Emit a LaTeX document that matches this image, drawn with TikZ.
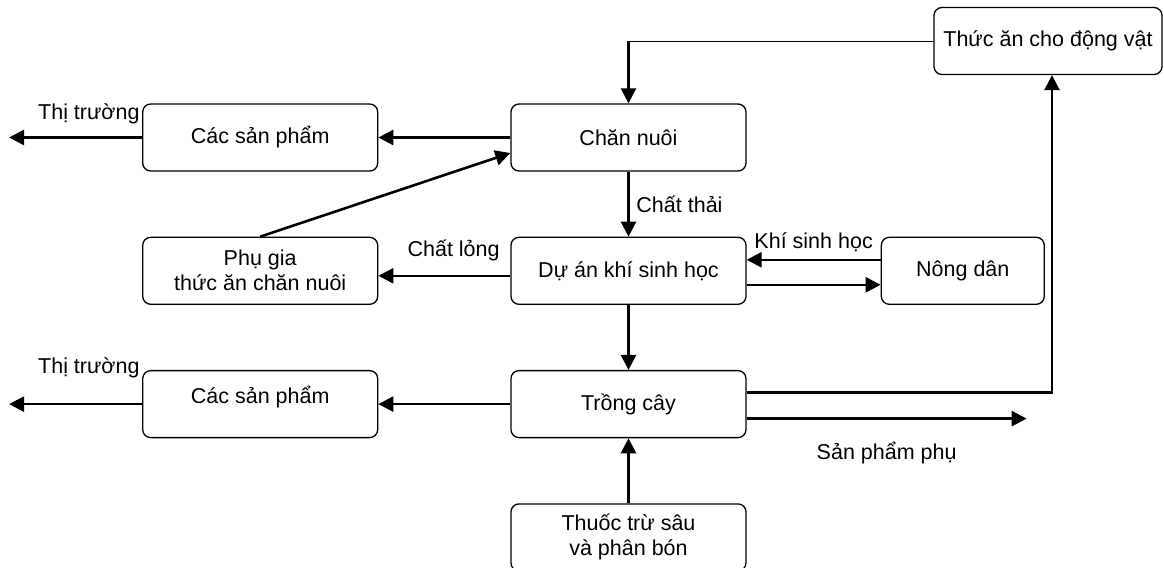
\documentclass[tikz,border=0pt]{standalone}
\usepackage{fontspec}
\setmainfont{Liberation Sans}
\usetikzlibrary{arrows.meta, positioning}

\begin{document}
\begin{tikzpicture}[x=0.5pt, y=-0.5pt, ->, >={Triangle[length=7.5pt,width=7.5pt]}, line width=1.3pt, auto, node distance=32.5pt and 66pt, font=\fontsize{10.75}{12.5}\selectfont]
\tikzstyle{box}=[draw=black, line width=0.65pt, rounded corners=4pt, minimum width=117.5pt, minimum height=33.5pt, align=center, inner sep=2pt]

\useasboundingbox (0,0) rectangle (1164,568);

\node[box] (chan) at (628.5,137.5) {Chăn nuôi};
\node[box] (duan) [below=of chan] {Dự án khí sinh học};
\node[box] (trong) [below=of duan] {Trồng cây};
\node[box] (thuoc) [below=of trong] {Thuốc trừ sâu\\và phân bón};
\node[box] (sp1) [left=of chan] {Các sản phẩm};
\node[box] (phugia) [left=of duan] {Phụ gia\\thức ăn chăn nuôi};
\node[box, text height=7.5pt, text depth=8.5pt] (sp2) [left=of trong] {Các sản phẩm};
\node[box, minimum width=81.5pt] (nong) [right=67pt of duan] {Nông dân};
\node[box, minimum width=114pt] (thucan) at (1048,41) {Thức ăn cho động vật};

\coordinate (tt1) at ([xshift=-66.5pt]sp1.west);
\coordinate (tt2) at ([xshift=-66.5pt]sp2.west);
\coordinate (spp) at ([xshift=140pt, yshift=-7.25pt]trong.east);
\coordinate (feed) at (chan.north |- thucan.west);

\path
(chan) edge (sp1)
       edge node (lthai) {Chất thải} (duan)
(sp1) edge node[pos=0.4, above=3pt] (ltt1) {Thị trường} (tt1)
(phugia.north) edge ([yshift=-7.75pt]chan.west)
([yshift=-2.5pt]duan.west) edge node[pos=0.43, above=3.5pt] (llong) {Chất lỏng} ([yshift=-2.5pt]phugia.east)
([yshift=5.5pt]nong.west) edge node[above] (lkhi) {Khí sinh học} ([yshift=5.5pt]duan.east)
([yshift=-7pt]duan.east) edge ([yshift=-7pt]nong.west)
(duan) edge (trong)
(trong) edge (sp2)
(sp2) edge node[pos=0.4, above=9pt] (ltt2) {Thị trường} (tt2)
([yshift=-7.25pt]trong.east) edge node[below=8pt] (lphu) {Sản phẩm phụ} (spp)
(thuoc) edge (trong);

\draw[-, line width=0.5pt] (thucan.west) -- (feed);
\draw (feed) -- (chan.north);
\draw ([yshift=5.75pt]trong.east) -| ([xshift=2pt]thucan.south);
\end{tikzpicture}
\end{document}
